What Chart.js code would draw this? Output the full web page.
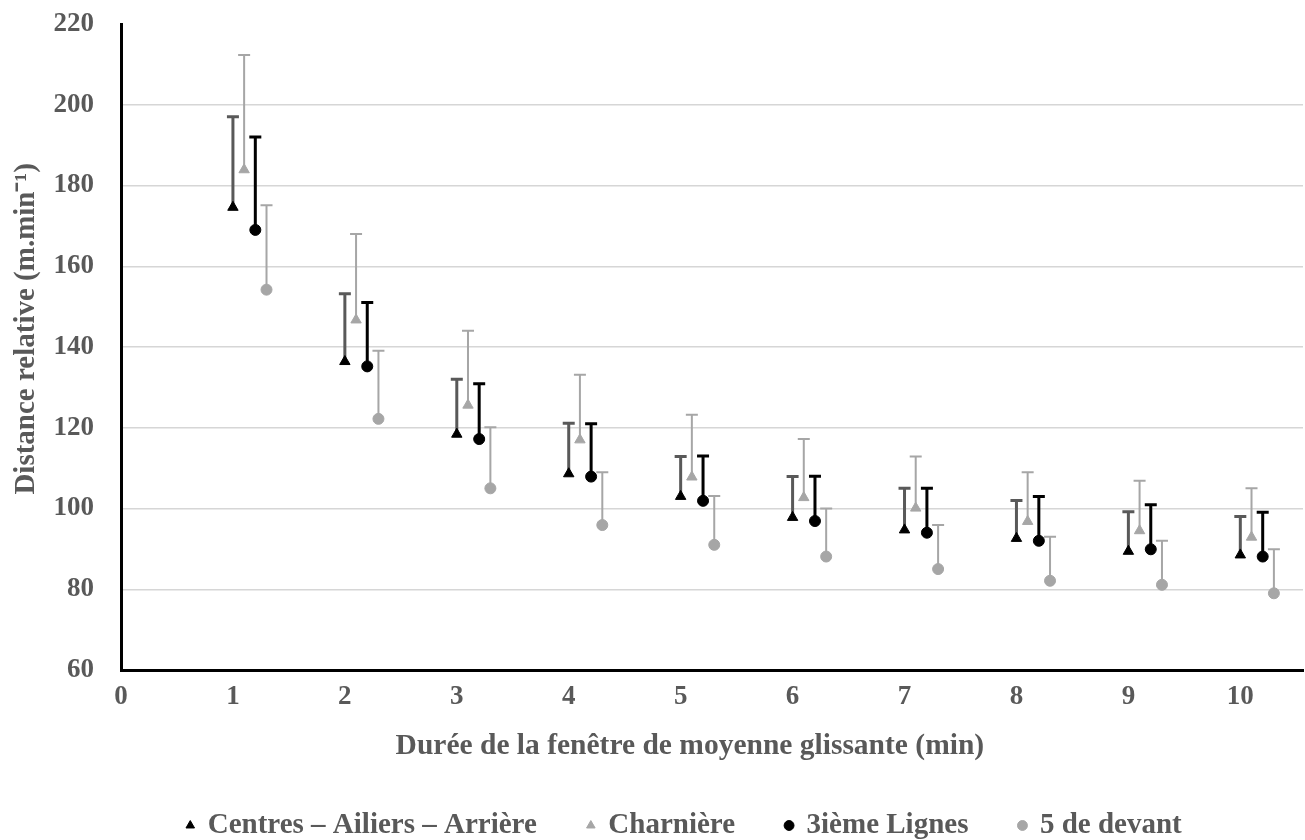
<!DOCTYPE html>
<html>
<head>
<meta charset="utf-8">
<script src="https://cdn.jsdelivr.net/npm/chart.js@4.4.1/dist/chart.umd.min.js"></script>
<style>
html,body{margin:0;padding:0;background:#ffffff;}
#wrap{width:1305px;height:840px;}
</style>
</head>
<body>
<div id="wrap"><canvas id="c" width="1305" height="840"></canvas></div>
<script>
// ---- data ----
const durations = [1, 2, 3, 4, 5, 6, 7, 8, 9, 10];
const seriesNames = ['Centres – Ailiers – Arrière', 'Charnière', '3ième Lignes', '5 de devant'];
const seriesXOffsets = [0, 0.1, 0.2, 0.3];

const centresMean   = [174.6, 136.4, 118.4, 108.6, 103.0, 97.8, 94.7, 92.6, 89.4, 88.5];
const centresUpper  = [197.0, 153.2, 132.0, 121.1, 112.9, 107.9, 105.0, 102.0, 99.2, 98.0];
const charniereMean = [183.9, 146.7, 125.6, 117.0, 107.8, 102.7, 100.1, 96.8, 94.5, 92.9];
const charniereUpper= [212.3, 168.0, 144.0, 133.1, 123.2, 117.2, 112.9, 109.0, 106.9, 105.0];
const troisiemeMean = [169.0, 135.2, 117.2, 107.9, 101.9, 96.9, 94.0, 92.0, 89.9, 88.1];
const troisiemeUpper= [192.0, 151.0, 130.9, 121.0, 113.0, 108.0, 105.0, 103.0, 100.9, 99.1];
const devantMean    = [154.2, 122.2, 105.0, 95.9, 91.0, 88.1, 85.0, 82.1, 81.1, 79.0];
const devantUpper   = [175.1, 139.1, 120.1, 109.0, 103.1, 100.0, 95.9, 93.0, 92.0, 89.9];

const xTickValues = [0, 1, 2, 3, 4, 5, 6, 7, 8, 9, 10];
const yTickValues = [60, 80, 100, 120, 140, 160, 180, 200, 220];

const xTitle = 'Durée de la fenêtre de moyenne glissante (min)';
const yTitle = 'Distance relative (m.min⁻¹)';

// ---- styling ----
const SERIF = "'Liberation Serif', 'Times New Roman', serif";
const TEXT = '#595959';
const LIGHT = '#a6a6a6';

function pts(means, k) {
  return means.map((v, i) => ({ x: durations[i] + seriesXOffsets[k], y: v }));
}

const styles = [
  { fill: '#000000', style: 'triangle', radius: 6,   errColor: '#595959', errWidth: 3 },
  { fill: LIGHT,     style: 'triangle', radius: 6,   errColor: LIGHT,     errWidth: 2 },
  { fill: '#000000', style: 'circle',   radius: 5.5, errColor: '#000000', errWidth: 3 },
  { fill: LIGHT,     style: 'circle',   radius: 5.5, errColor: LIGHT,     errWidth: 2 }
];
const means = [centresMean, charniereMean, troisiemeMean, devantMean];
const uppers = [centresUpper, charniereUpper, troisiemeUpper, devantUpper];

const datasets = seriesNames.map((name, k) => ({
  label: name,
  data: pts(means[k], k),
  upper: uppers[k],
  errColor: styles[k].errColor,
  errWidth: styles[k].errWidth,
  capHalf: 6,
  showLine: false,
  pointStyle: styles[k].style,
  pointRadius: styles[k].radius,
  pointHoverRadius: styles[k].radius,
  pointBackgroundColor: styles[k].fill,
  pointBorderColor: styles[k].fill,
  backgroundColor: styles[k].fill,
  borderColor: styles[k].fill,
  pointBorderWidth: 1
}));

const errorBarPlugin = {
  id: 'errorBars',
  beforeDatasetsDraw(chart) {
    const ctx = chart.ctx;
    const xs = chart.scales.x, ys = chart.scales.y;
    chart.data.datasets.forEach((ds, i) => {
      const meta = chart.getDatasetMeta(i);
      if (meta.hidden) return;
      ctx.save();
      ctx.strokeStyle = ds.errColor;
      ctx.lineWidth = ds.errWidth;
      ctx.lineCap = 'butt';
      ds.data.forEach((p, j) => {
        const px = xs.getPixelForValue(p.x);
        const py = ys.getPixelForValue(p.y);
        const pu = ys.getPixelForValue(ds.upper[j]);
        ctx.beginPath();
        ctx.moveTo(px, py);
        ctx.lineTo(px, pu);
        ctx.moveTo(px - ds.capHalf, pu);
        ctx.lineTo(px + ds.capHalf, pu);
        ctx.stroke();
      });
      ctx.restore();
    });
  }
};

const legendShiftPlugin = {
  id: 'legendShift',
  afterLayout(chart) {
    const l = chart.legend;
    if (!l) return;
    const dx = 33, dy = 10;
    l.left += dx; l.right += dx;
    l.top += dy; l.bottom += dy;
  }
};

new Chart(document.getElementById('c'), {
  type: 'scatter',
  data: { datasets },
  plugins: [errorBarPlugin, legendShiftPlugin],
  options: {
    responsive: false,
    animation: false,
    devicePixelRatio: 1,
    layout: { autoPadding: false, padding: { top: 24, right: 2, bottom: 0, left: 0 } },
    plugins: {
      tooltip: { enabled: false },
      legend: {
        position: 'bottom',
        align: 'center',
        labels: {
          usePointStyle: true,
          boxWidth: 6,
          boxHeight: 7,
          padding: 51,
          color: TEXT,
          font: { family: SERIF, size: 29, weight: 'bold' }
        }
      }
    },
    scales: {
      x: {
        type: 'linear',
        min: 0,
        max: 10.56,
        afterBuildTicks(scale) { scale.ticks = xTickValues.map(v => ({ value: v })); },
        afterFit(scale) { scale.height = 80; scale.paddingLeft = 0; scale.paddingRight = 0; },
        ticks: {
          includeBounds: false,
          padding: 11,
          color: TEXT,
          font: { family: SERIF, size: 27, weight: 'bold' },
          maxRotation: 0
        },
        grid: { display: false, drawTicks: false },
        border: { display: true, color: '#000000', width: 3 },
        title: {
          display: true,
          text: xTitle + '      ',
          color: TEXT,
          font: { family: SERIF, size: 29.5, weight: 'bold' },
          padding: { top: 0, bottom: -14.5 }
        }
      },
      y: {
        type: 'linear',
        min: 60,
        max: 220,
        afterBuildTicks(scale) { scale.ticks = yTickValues.map(v => ({ value: v })); },
        afterFit(scale) { scale.width = 121; scale.paddingTop = 0; scale.paddingBottom = 0; },
        ticks: {
          padding: 27,
          color: TEXT,
          font: { family: SERIF, size: 27, weight: 'bold' }
        },
        grid: {
          drawTicks: false,
          lineWidth: 1.5,
          color: (c) => (c.tick && (c.tick.value === 60 || c.tick.value === 220)) ? 'rgba(0,0,0,0)' : '#d6d6d6'
        },
        border: { display: true, color: '#000000', width: 3 },
        title: {
          display: true,
          text: '     ' + yTitle,
          color: TEXT,
          font: { family: SERIF, size: 29, weight: 'bold' },
          padding: { top: 9, bottom: 0 }
        }
      }
    }
  }
});
</script>
</body>
</html>
